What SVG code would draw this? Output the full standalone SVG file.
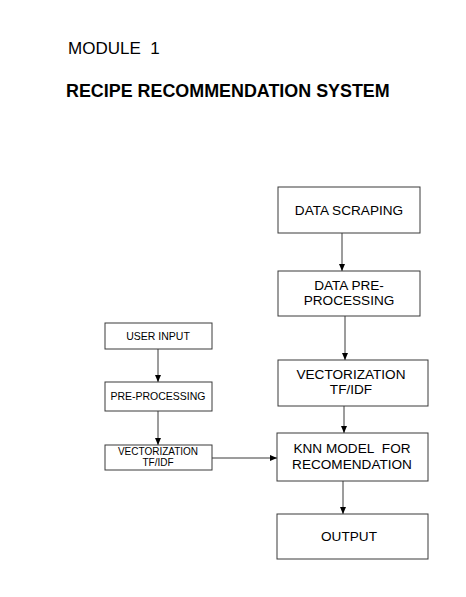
<svg xmlns="http://www.w3.org/2000/svg" width="466" height="597" viewBox="0 0 466 597">
<style>
.box{fill:#fff;stroke:#3a3a3a;stroke-width:1}
.t{font-family:"Liberation Sans",Arial,sans-serif;fill:#000;text-anchor:middle}
.big{font-size:13.6px}
.sm{font-size:10.5px}
.xs{font-size:10px}
.ln{stroke:#3a3a3a;stroke-width:1;fill:none;marker-end:url(#ah)}
</style>
<defs>
<marker id="ah" markerWidth="8" markerHeight="8" refX="7" refY="4" orient="auto" markerUnits="userSpaceOnUse">
<path d="M0,1 L7,4 L0,7 z" fill="#000"/>
</marker>
</defs>
<rect width="466" height="597" fill="#fff"/>
<text x="68" y="54" font-family="Liberation Sans,Arial,sans-serif" font-size="17">MODULE&#160;&#160;1</text>
<text x="66" y="97" font-family="Liberation Sans,Arial,sans-serif" font-size="17.9" font-weight="bold">RECIPE RECOMMENDATION SYSTEM</text>
<g id="connectors">
<line class="ln" x1="342" y1="233" x2="342" y2="271"/>
<line class="ln" x1="345" y1="316" x2="345" y2="360"/>
<line class="ln" x1="344" y1="406" x2="344" y2="433"/>
<line class="ln" x1="343" y1="481" x2="343" y2="514"/>
<line class="ln" x1="158" y1="349" x2="158" y2="382"/>
<line class="ln" x1="158" y1="411" x2="158" y2="445"/>
<line class="ln" x1="212" y1="458" x2="277" y2="458"/>
</g>
<g id="data-scraping"><rect class="box" x="278" y="187" width="142" height="46"/><text class="t big" x="349" y="215">DATA SCRAPING</text></g>
<g id="data-preprocessing"><rect class="box" x="278" y="271" width="142" height="45"/><text class="t big" x="349" y="290">DATA PRE-</text><text class="t big" x="349" y="305">PROCESSING</text></g>
<g id="vectorization-right"><rect class="box" x="278" y="360" width="150" height="46"/><text class="t big" x="351" y="379">VECTORIZATION</text><text class="t big" x="351" y="394">TF/IDF</text></g>
<g id="knn"><rect class="box" x="277" y="433" width="151" height="48"/><text class="t big" x="352" y="453">KNN MODEL&#160;&#160;FOR</text><text class="t big" x="352" y="469">RECOMENDATION</text></g>
<g id="output"><rect class="box" x="277" y="514" width="151" height="45"/><text class="t big" x="349" y="541">OUTPUT</text></g>
<g id="user-input"><rect class="box" x="105" y="323" width="107" height="26"/><text class="t sm" x="158" y="340">USER INPUT</text></g>
<g id="pre-processing"><rect class="box" x="105" y="382" width="107" height="29"/><text class="t sm" x="158" y="400">PRE-PROCESSING</text></g>
<g id="vectorization-left"><rect class="box" x="105" y="445" width="107" height="25"/><text class="t xs" x="158" y="455">VECTORIZATION</text><text class="t xs" x="158" y="466">TF/IDF</text></g>
</svg>
